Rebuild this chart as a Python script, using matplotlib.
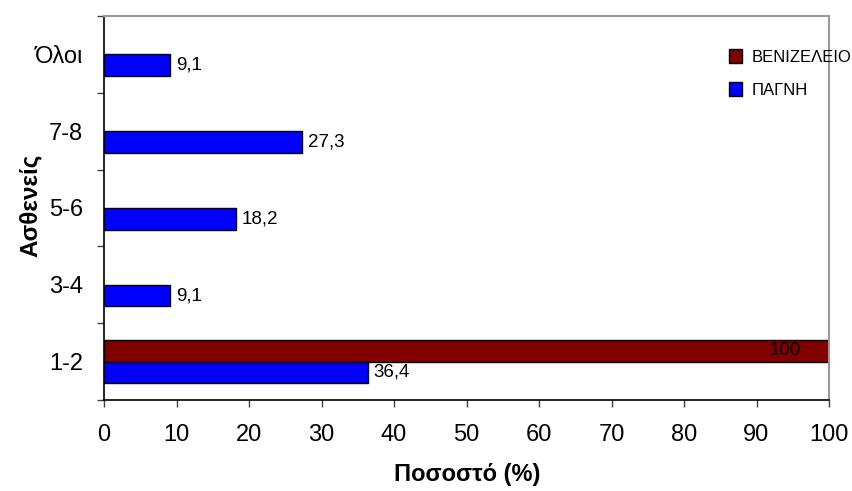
import matplotlib
matplotlib.use("Agg")
import matplotlib.pyplot as plt
import numpy as np

plt.rcParams['font.family'] = ['Liberation Sans', 'DejaVu Sans']

categories = ["1-2", "3-4", "5-6", "7-8", "Όλοι"]
venizeleio = [100, None, None, None, None]
pagni = [36.4, 9.1, 18.2, 27.3, 9.1]
series_names = ["ΒΕΝΙΖΕΛΕΙΟ", "ΠΑΓΝΗ"]
xticks = list(range(0, 101, 10))

fig = plt.figure(figsize=(8.52, 4.91), dpi=100)
ax = fig.add_axes([104/852, 1-400/491, (829-104)/852, (400-16)/491])

y = np.arange(len(categories))
h = 0.28
ry = [yi for yi, v in zip(y, venizeleio) if v is not None]
rv = [v for v in venizeleio if v is not None]
b1 = ax.barh(np.array(ry) + h/2, rv, height=h, color="#800000", edgecolor="black", linewidth=1, label=series_names[0])
b2 = ax.barh(y - h/2, pagni, height=h, color="#0000FF", edgecolor="black", linewidth=1, label=series_names[1])

def fmt(v):
    return (("%.1f" % v).replace(".", ",")) if v != int(v) else str(int(v))

for yi, v in zip(ry, rv):
    ax.text(v - 3.9, yi + h/2, fmt(v), ha="right", va="center", fontsize=13.5, color="black")
for yi, v in zip(y, pagni):
    ax.text(v + 0.8, yi - h/2, fmt(v), ha="left", va="center", fontsize=13.5, color="black")

ax.set_xlim(0, 100)
ax.set_ylim(-0.5, len(categories) - 0.5)
ax.set_xticks(xticks)
ax.set_xticklabels([str(t) for t in xticks], fontsize=17)
ax.set_yticks(y)
ax.set_yticklabels(categories, fontsize=17)
ax.set_yticks(np.arange(-0.5, len(categories), 1), minor=True)
ax.tick_params(axis="y", which="major", length=0, pad=15)
ax.tick_params(axis="y", which="minor", length=5, width=1, color="#404040")
ax.tick_params(axis="x", which="major", length=5, width=1, pad=12, color="#404040")

for s in ["left", "bottom"]:
    ax.spines[s].set_color("black")
    ax.spines[s].set_linewidth(1.2)
for s in ["top", "right"]:
    ax.spines[s].set_color("#999999")
    ax.spines[s].set_linewidth(1.5)

ax.set_xlabel("Ποσοστό (%)", fontsize=17, fontweight="bold")
ax.xaxis.set_label_coords((467-104)/725, (400-475)/384)
ax.xaxis.label.set_va("center")
ax.set_ylabel("Ασθενείς", fontsize=17.5, fontweight="bold")
ax.yaxis.set_label_coords((30-104)/725, (400-205)/384)
ax.yaxis.label.set_va("center")

leg = ax.legend(handles=[b1, b2], loc="upper left", bbox_to_anchor=(714/852, 1-34/491),
                bbox_transform=fig.transFigure, frameon=False, fontsize=12,
                handlelength=0.75, handleheight=0.9, handletextpad=0.6, labelspacing=1.05)

fig.savefig("out.png", dpi=100)
